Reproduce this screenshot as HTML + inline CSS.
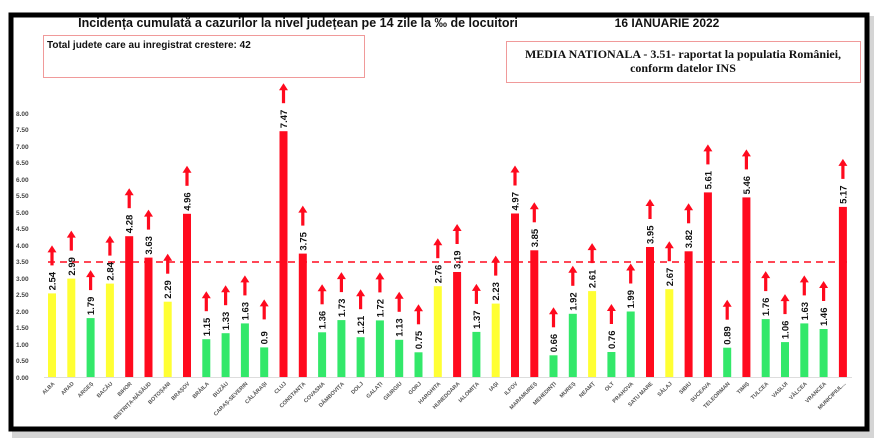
<!DOCTYPE html>
<html><head><meta charset="utf-8"><style>
html,body{margin:0;padding:0;background:#fff;}
svg{display:block}
</style></head><body>
<svg width="880" height="442" viewBox="0 0 880 442" xmlns="http://www.w3.org/2000/svg" font-family="Liberation Sans, sans-serif">
<defs>
<g id="ar"><rect x="-1.6" y="-14" width="3.2" height="14" fill="#ff0a1e"/><polygon points="-4.5,-13 0,-20 4.5,-13" fill="#ff0a1e"/></g>
</defs>
<rect x="0" y="0" width="880" height="442" fill="#fff"/>
<rect x="12" y="16" width="862" height="422" fill="#888" opacity="0.35"/>
<rect x="11" y="15" width="856" height="414" fill="#fff" stroke="#000" stroke-width="5"/>
<text x="298" y="27" font-size="12.5" font-weight="bold" text-anchor="middle" fill="#111">Incidența cumulată a cazurilor la nivel județean pe 14 zile la ‰ de locuitori</text>
<text x="667" y="27" font-size="12" font-weight="bold" text-anchor="middle" fill="#111">16 IANUARIE 2022</text>
<rect x="43.5" y="35.5" width="321" height="42" fill="#fff" stroke="#f09a9a" stroke-width="1"/>
<text x="47" y="48" font-size="10" font-weight="bold" fill="#111">Total judete care au inregistrat crestere: 42</text>
<rect x="506.5" y="41.5" width="354" height="41" fill="#fff" stroke="#f09a9a" stroke-width="1"/>
<text x="683" y="58" font-size="12" font-weight="bold" text-anchor="middle" font-family="Liberation Serif, serif" fill="#111">MEDIA NATIONALA - 3.51-  raportat la populatia României,</text>
<text x="683" y="72" font-size="12" font-weight="bold" text-anchor="middle" font-family="Liberation Serif, serif" fill="#111">conform datelor INS</text>
<g font-size="6.5" font-weight="bold" fill="#444">
<text x="16" y="116">8.00</text><text x="16" y="132">7.50</text><text x="16" y="149">7.00</text><text x="16" y="165">6.50</text><text x="16" y="182">6.00</text><text x="16" y="198">5.50</text><text x="16" y="215">5.00</text><text x="16" y="231">4.50</text><text x="16" y="248">4.00</text><text x="16" y="264">3.50</text><text x="16" y="281">3.00</text><text x="16" y="297">2.50</text><text x="16" y="314">2.00</text><text x="16" y="330">1.50</text><text x="16" y="347">1.00</text><text x="16" y="363">0.50</text><text x="16" y="380">0.00</text>
</g>
<line x1="44" y1="377.5" x2="852" y2="377.5" stroke="#ddd" stroke-width="1"/>
<g>
<rect x="48" y="293.4" width="8" height="83.6" fill="#ffff33"/>
<rect x="67.3" y="278.6" width="8" height="98.4" fill="#ffff33"/>
<rect x="86.6" y="318.1" width="8" height="58.9" fill="#33e86a"/>
<rect x="105.9" y="283.6" width="8" height="93.4" fill="#ffff33"/>
<rect x="125.2" y="236.2" width="8" height="140.8" fill="#ff0a1e"/>
<rect x="144.5" y="257.6" width="8" height="119.4" fill="#ff0a1e"/>
<rect x="163.7" y="301.7" width="8" height="75.3" fill="#ffff33"/>
<rect x="183" y="213.8" width="8" height="163.2" fill="#ff0a1e"/>
<rect x="202.3" y="339.2" width="8" height="37.8" fill="#33e86a"/>
<rect x="221.6" y="333.2" width="8" height="43.8" fill="#33e86a"/>
<rect x="240.9" y="323.4" width="8" height="53.6" fill="#33e86a"/>
<rect x="260.2" y="347.4" width="8" height="29.6" fill="#33e86a"/>
<rect x="279.5" y="131.2" width="8" height="245.8" fill="#ff0a1e"/>
<rect x="298.8" y="253.6" width="8" height="123.4" fill="#ff0a1e"/>
<rect x="318.1" y="332.3" width="8" height="44.7" fill="#33e86a"/>
<rect x="337.4" y="320.1" width="8" height="56.9" fill="#33e86a"/>
<rect x="356.6" y="337.2" width="8" height="39.8" fill="#33e86a"/>
<rect x="375.9" y="320.4" width="8" height="56.6" fill="#33e86a"/>
<rect x="395.2" y="339.8" width="8" height="37.2" fill="#33e86a"/>
<rect x="414.5" y="352.3" width="8" height="24.7" fill="#33e86a"/>
<rect x="433.8" y="286.2" width="8" height="90.8" fill="#ffff33"/>
<rect x="453.1" y="272" width="8" height="105" fill="#ff0a1e"/>
<rect x="472.4" y="331.9" width="8" height="45.1" fill="#33e86a"/>
<rect x="491.7" y="303.6" width="8" height="73.4" fill="#ffff33"/>
<rect x="511" y="213.5" width="8" height="163.5" fill="#ff0a1e"/>
<rect x="530.3" y="250.3" width="8" height="126.7" fill="#ff0a1e"/>
<rect x="549.5" y="355.3" width="8" height="21.7" fill="#33e86a"/>
<rect x="568.8" y="313.8" width="8" height="63.2" fill="#33e86a"/>
<rect x="588.1" y="291.1" width="8" height="85.9" fill="#ffff33"/>
<rect x="607.4" y="352" width="8" height="25" fill="#33e86a"/>
<rect x="626.7" y="311.5" width="8" height="65.5" fill="#33e86a"/>
<rect x="646" y="247" width="8" height="130" fill="#ff0a1e"/>
<rect x="665.3" y="289.2" width="8" height="87.8" fill="#ffff33"/>
<rect x="684.6" y="251.3" width="8" height="125.7" fill="#ff0a1e"/>
<rect x="703.9" y="192.4" width="8" height="184.6" fill="#ff0a1e"/>
<rect x="723.2" y="347.7" width="8" height="29.3" fill="#33e86a"/>
<rect x="742.4" y="197.4" width="8" height="179.6" fill="#ff0a1e"/>
<rect x="761.7" y="319.1" width="8" height="57.9" fill="#33e86a"/>
<rect x="781" y="342.1" width="8" height="34.9" fill="#33e86a"/>
<rect x="800.3" y="323.4" width="8" height="53.6" fill="#33e86a"/>
<rect x="819.6" y="329" width="8" height="48" fill="#33e86a"/>
<rect x="838.9" y="206.9" width="8" height="170.1" fill="#ff0a1e"/>
</g>
<line x1="48" y1="262" x2="852" y2="262" stroke="#ff0a1e" stroke-width="1.6" stroke-dasharray="7,5"/>
<g font-size="9.5" font-weight="bold" fill="#111">
<text transform="translate(55.5,290.4) rotate(-90)">2.54</text>
<text transform="translate(74.8,275.6) rotate(-90)">2.99</text>
<text transform="translate(94.1,315.1) rotate(-90)">1.79</text>
<text transform="translate(113.4,280.6) rotate(-90)">2.84</text>
<text transform="translate(132.7,233.2) rotate(-90)">4.28</text>
<text transform="translate(152,254.6) rotate(-90)">3.63</text>
<text transform="translate(171.2,298.7) rotate(-90)">2.29</text>
<text transform="translate(190.5,210.8) rotate(-90)">4.96</text>
<text transform="translate(209.8,336.2) rotate(-90)">1.15</text>
<text transform="translate(229.1,330.2) rotate(-90)">1.33</text>
<text transform="translate(248.4,320.4) rotate(-90)">1.63</text>
<text transform="translate(267.7,344.4) rotate(-90)">0.9</text>
<text transform="translate(287,128.2) rotate(-90)">7.47</text>
<text transform="translate(306.3,250.6) rotate(-90)">3.75</text>
<text transform="translate(325.6,329.3) rotate(-90)">1.36</text>
<text transform="translate(344.9,317.1) rotate(-90)">1.73</text>
<text transform="translate(364.1,334.2) rotate(-90)">1.21</text>
<text transform="translate(383.4,317.4) rotate(-90)">1.72</text>
<text transform="translate(402.7,336.8) rotate(-90)">1.13</text>
<text transform="translate(422,349.3) rotate(-90)">0.75</text>
<text transform="translate(441.3,283.2) rotate(-90)">2.76</text>
<text transform="translate(460.6,269) rotate(-90)">3.19</text>
<text transform="translate(479.9,328.9) rotate(-90)">1.37</text>
<text transform="translate(499.2,300.6) rotate(-90)">2.23</text>
<text transform="translate(518.5,210.5) rotate(-90)">4.97</text>
<text transform="translate(537.8,247.3) rotate(-90)">3.85</text>
<text transform="translate(557,352.3) rotate(-90)">0.66</text>
<text transform="translate(576.3,310.8) rotate(-90)">1.92</text>
<text transform="translate(595.6,288.1) rotate(-90)">2.61</text>
<text transform="translate(614.9,349) rotate(-90)">0.76</text>
<text transform="translate(634.2,308.5) rotate(-90)">1.99</text>
<text transform="translate(653.5,244) rotate(-90)">3.95</text>
<text transform="translate(672.8,286.2) rotate(-90)">2.67</text>
<text transform="translate(692.1,248.3) rotate(-90)">3.82</text>
<text transform="translate(711.4,189.4) rotate(-90)">5.61</text>
<text transform="translate(730.7,344.7) rotate(-90)">0.89</text>
<text transform="translate(749.9,194.4) rotate(-90)">5.46</text>
<text transform="translate(769.2,316.1) rotate(-90)">1.76</text>
<text transform="translate(788.5,339.1) rotate(-90)">1.06</text>
<text transform="translate(807.8,320.4) rotate(-90)">1.63</text>
<text transform="translate(827.1,326) rotate(-90)">1.46</text>
<text transform="translate(846.4,203.9) rotate(-90)">5.17</text>
</g>
<g>
<use href="#ar" x="52" y="265.4"/><use href="#ar" x="71.3" y="250.6"/><use href="#ar" x="90.6" y="290.1"/><use href="#ar" x="109.9" y="255.6"/><use href="#ar" x="129.2" y="208.2"/><use href="#ar" x="148.5" y="229.6"/><use href="#ar" x="167.7" y="273.7"/><use href="#ar" x="187" y="185.8"/><use href="#ar" x="206.3" y="311.2"/><use href="#ar" x="225.6" y="305.2"/><use href="#ar" x="244.9" y="295.4"/><use href="#ar" x="264.2" y="319.4"/><use href="#ar" x="283.5" y="103.2"/><use href="#ar" x="302.8" y="225.6"/><use href="#ar" x="322.1" y="304.3"/><use href="#ar" x="341.4" y="292.1"/><use href="#ar" x="360.6" y="309.2"/><use href="#ar" x="379.9" y="292.4"/><use href="#ar" x="399.2" y="311.8"/><use href="#ar" x="418.5" y="324.3"/><use href="#ar" x="437.8" y="258.2"/><use href="#ar" x="457.1" y="244"/><use href="#ar" x="476.4" y="303.9"/><use href="#ar" x="495.7" y="275.6"/><use href="#ar" x="515" y="185.5"/><use href="#ar" x="534.3" y="222.3"/><use href="#ar" x="553.5" y="327.3"/><use href="#ar" x="572.8" y="285.8"/><use href="#ar" x="592.1" y="263.1"/><use href="#ar" x="611.4" y="324"/><use href="#ar" x="630.7" y="283.5"/><use href="#ar" x="650" y="219"/><use href="#ar" x="669.3" y="261.2"/><use href="#ar" x="688.6" y="223.3"/><use href="#ar" x="707.9" y="164.4"/><use href="#ar" x="727.2" y="319.7"/><use href="#ar" x="746.4" y="169.4"/><use href="#ar" x="765.7" y="291.1"/><use href="#ar" x="785" y="314.1"/><use href="#ar" x="804.3" y="295.4"/><use href="#ar" x="823.6" y="301"/><use href="#ar" x="842.9" y="178.9"/>
</g>
<g font-size="5.5" font-weight="bold" fill="#555" text-anchor="end">
<text transform="translate(55,384) rotate(-45)">ALBA</text>
<text transform="translate(74.3,384) rotate(-45)">ARAD</text>
<text transform="translate(93.6,384) rotate(-45)">ARGEȘ</text>
<text transform="translate(112.9,384) rotate(-45)">BACĂU</text>
<text transform="translate(132.2,384) rotate(-45)">BIHOR</text>
<text transform="translate(151.5,384) rotate(-45)">BISTRIȚA-NĂSĂUD</text>
<text transform="translate(170.7,384) rotate(-45)">BOTOȘANI</text>
<text transform="translate(190,384) rotate(-45)">BRAȘOV</text>
<text transform="translate(209.3,384) rotate(-45)">BRĂILA</text>
<text transform="translate(228.6,384) rotate(-45)">BUZĂU</text>
<text transform="translate(247.9,384) rotate(-45)">CARAȘ-SEVERIN</text>
<text transform="translate(267.2,384) rotate(-45)">CĂLĂRAȘI</text>
<text transform="translate(286.5,384) rotate(-45)">CLUJ</text>
<text transform="translate(305.8,384) rotate(-45)">CONSTANȚA</text>
<text transform="translate(325.1,384) rotate(-45)">COVASNA</text>
<text transform="translate(344.4,384) rotate(-45)">DÂMBOVIȚA</text>
<text transform="translate(363.6,384) rotate(-45)">DOLJ</text>
<text transform="translate(382.9,384) rotate(-45)">GALAȚI</text>
<text transform="translate(402.2,384) rotate(-45)">GIURGIU</text>
<text transform="translate(421.5,384) rotate(-45)">GORJ</text>
<text transform="translate(440.8,384) rotate(-45)">HARGHITA</text>
<text transform="translate(460.1,384) rotate(-45)">HUNEDOARA</text>
<text transform="translate(479.4,384) rotate(-45)">IALOMIȚA</text>
<text transform="translate(498.7,384) rotate(-45)">IAȘI</text>
<text transform="translate(518,384) rotate(-45)">ILFOV</text>
<text transform="translate(537.3,384) rotate(-45)">MARAMUREȘ</text>
<text transform="translate(556.5,384) rotate(-45)">MEHEDINȚI</text>
<text transform="translate(575.8,384) rotate(-45)">MUREȘ</text>
<text transform="translate(595.1,384) rotate(-45)">NEAMȚ</text>
<text transform="translate(614.4,384) rotate(-45)">OLT</text>
<text transform="translate(633.7,384) rotate(-45)">PRAHOVA</text>
<text transform="translate(653,384) rotate(-45)">SATU MARE</text>
<text transform="translate(672.3,384) rotate(-45)">SĂLAJ</text>
<text transform="translate(691.6,384) rotate(-45)">SIBIU</text>
<text transform="translate(710.9,384) rotate(-45)">SUCEAVA</text>
<text transform="translate(730.2,384) rotate(-45)">TELEORMAN</text>
<text transform="translate(749.4,384) rotate(-45)">TIMIȘ</text>
<text transform="translate(768.7,384) rotate(-45)">TULCEA</text>
<text transform="translate(788,384) rotate(-45)">VASLUI</text>
<text transform="translate(807.3,384) rotate(-45)">VÂLCEA</text>
<text transform="translate(826.6,384) rotate(-45)">VRANCEA</text>
<text transform="translate(845.9,384) rotate(-45)">MUNICIPIUL...</text>
</g>
</svg>
</body></html>
